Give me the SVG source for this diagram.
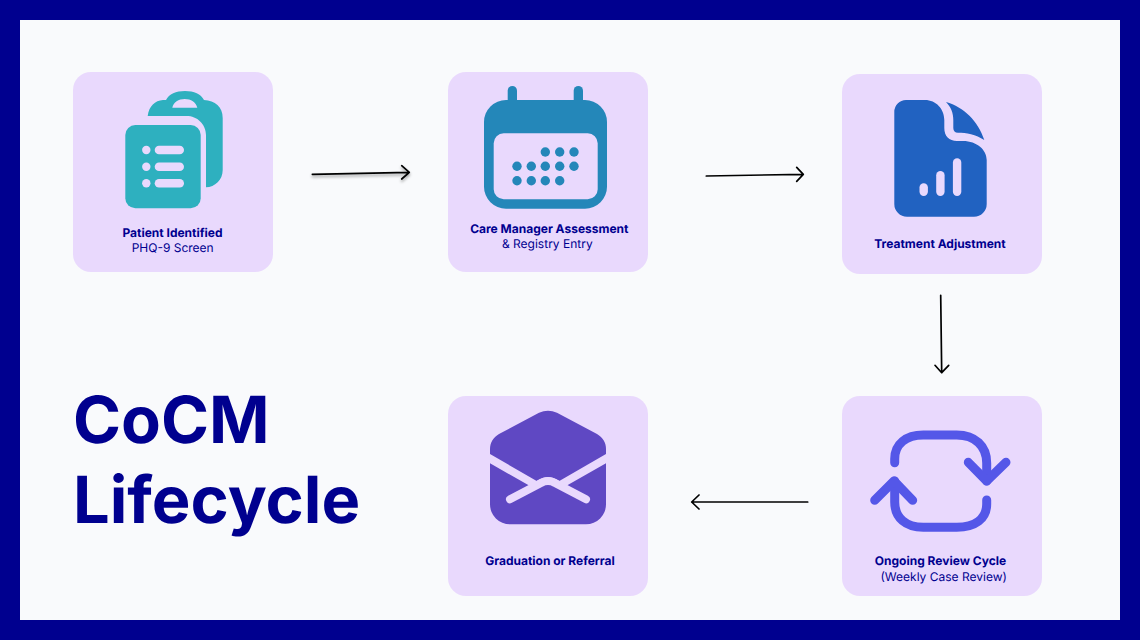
<svg xmlns="http://www.w3.org/2000/svg" width="1140" height="640" viewBox="0 0 1140 640">
<style>
text{text-rendering:geometricPrecision}
.card{fill:#E9D9FD}
.t{font-family:Inter,"Liberation Sans",sans-serif;font-size:12px;fill:#00008F;text-anchor:middle}
.b{font-weight:700}
.title{font-family:Inter,"Liberation Sans",sans-serif;font-size:65px;font-weight:700;fill:#00008F}
.conn{fill:none;stroke:#000;stroke-width:1.7;stroke-linecap:round;stroke-linejoin:round}
</style>
<defs>
<filter id="sh" x="-20%" y="-100%" width="140%" height="300%"><feDropShadow dx="0" dy="2" stdDeviation="1.5" flood-color="#000" flood-opacity=".4"/></filter>
</defs>
<rect width="1140" height="640" fill="#00008F"/>
<rect x="20" y="20" width="1100" height="600" fill="#F9FAFC"/>

<g id="title"><text class="title" x="73" y="443.300">CoCM</text><text class="title" x="73" y="522.700">Lifecycle</text></g>

<g id="connectors" class="conn">
<path filter="url(#sh)" d="M312.3 174.3L409.3 172.3M401.7 165.7L409.3 172.3L401.7 179"/>
<path d="M706.3 176L803.3 174.3M796.7 167.3L803.3 174.3L796.7 181.3"/>
<path d="M940.7 295.3L941.7 372.7M935 365.3L941.7 372.7L948.7 365.3"/>
<path d="M807.7 502H691.7M699 495L691.7 502L699 509"/>
</g>

<g id="node-patient">
<rect class="card" x="73" y="72" width="200" height="200" rx="18"/>
<g fill="#2EB0BF">
<path fill-rule="evenodd" d="M147.7 116C149 106 155 100.500 163 100H166C169 94 176 91 185 91C194 91 201 94 204 100C215 100.500 222.700 107 222.700 118V170C222.700 180 215 187 206 187.300V135C206 124 197 116 186.700 116ZM172.300 107.700H197.300C196 102 191 99 184.800 99C178.500 99 173.500 102 172.300 107.700Z"/>
<rect x="125.300" y="125" width="75.400" height="83.300" rx="10"/>
</g>
<g fill="#E9D9FD">
<circle cx="146.300" cy="150" r="4.200"/><circle cx="146.300" cy="166.700" r="4.200"/><circle cx="146.300" cy="183.300" r="4.200"/>
<rect x="154.700" y="145.700" width="29.300" height="8.600" rx="4.300"/><rect x="154.700" y="162.400" width="29.300" height="8.600" rx="4.300"/><rect x="154.700" y="179" width="29.300" height="8.600" rx="4.300"/>
</g>
<text class="t b" x="172.500" y="236.700">Patient Identified</text>
<text class="t" x="172.700" y="251.700">PHQ-9 Screen</text>
</g>

<g id="node-care">
<rect class="card" x="448" y="72" width="200" height="200" rx="18"/>
<g fill="#2487B9">
<rect x="507.700" y="86" width="9.300" height="24" rx="4.650"/><rect x="573.700" y="86" width="9.300" height="24" rx="4.650"/>
<path fill-rule="evenodd" d="M506 100H585A22 22 0 0 1 607 122V186.700A22 22 0 0 1 585 208.700H506A22 22 0 0 1 484 186.700V122A22 22 0 0 1 506 100ZM503.700 133.300A10 10 0 0 0 493.700 143.300V189.300A10 10 0 0 0 503.700 199.300H587.700A10 10 0 0 0 597.700 189.300V143.300A10 10 0 0 0 587.700 133.300Z"/>
<circle cx="545.300" cy="152" r="4.700"/><circle cx="559.700" cy="152" r="4.700"/><circle cx="574" cy="152" r="4.700"/>
<circle cx="517" cy="166.300" r="4.700"/><circle cx="531.300" cy="166.300" r="4.700"/><circle cx="545.300" cy="166.300" r="4.700"/><circle cx="559.700" cy="166.300" r="4.700"/><circle cx="574" cy="166.300" r="4.700"/>
<circle cx="517" cy="180.700" r="4.700"/><circle cx="531.300" cy="180.700" r="4.700"/><circle cx="545.300" cy="180.700" r="4.700"/><circle cx="559.700" cy="180.700" r="4.700"/>
</g>
<text class="t b" x="549.300" y="232.700">Care Manager Assessment</text>
<text class="t" x="547.300" y="247.700">&amp; Registry Entry</text>
</g>

<g id="node-treatment">
<rect class="card" x="842" y="74" width="200" height="200" rx="18"/>
<g fill="#2162C1">
<path d="M906 100H925C936 100 944.300 109 944.300 120V128C944.300 136 949 141 957 141H963C977 141 986.700 150 986.700 160V204A12.700 12.700 0 0 1 974 216.700H907A12.700 12.700 0 0 1 894.300 204V112A12 12 0 0 1 906 100Z"/>
<path d="M946 102C964 107 978 121 984.300 140C976 134.500 966 132.700 958 132.700C955 132.700 953.300 131 953.300 128V120C953.300 113 951 107 946 102Z"/>
</g>
<g fill="#E9D9FD">
<rect x="919.500" y="183.300" width="8.400" height="12.700" rx="4.200"/><rect x="936.200" y="171" width="8.400" height="25" rx="4.200"/><rect x="952.900" y="158.300" width="8.400" height="37.700" rx="4.200"/>
</g>
<text class="t b" x="940" y="247.700">Treatment Adjustment</text>
</g>

<g id="node-review">
<rect class="card" x="842" y="396" width="200" height="200" rx="18"/>
<g fill="none" stroke="#5457E8" stroke-width="9" stroke-linecap="round" stroke-linejoin="round">
<path d="M894.700 462.700V459C894.700 444 906 435 923.300 435H956.700C975 435 986.700 446 986.700 463V481"/>
<path d="M968.300 462.300L986.700 481L1006 462.300"/>
<path d="M986.700 500V504C986.700 519 975 527.300 956.700 527.300H923.300C906 527.300 894.700 518 894.700 502V481"/>
<path d="M874.700 500.300L894 481L912.700 500.300"/>
</g>
<text class="t b" x="940.500" y="565">Ongoing Review Cycle</text>
<text class="t" x="943.700" y="581">(Weekly Case Review)</text>
</g>

<g id="node-graduation">
<rect class="card" x="448" y="396" width="200" height="200" rx="18"/>
<g fill="#5F48C3">
<path d="M539 412.800Q548 408.800 557 412.800L597 434C603 437.500 606 443 606 449V454L559.300 481Q548 473 536.700 481L490 454V449C490 443 493 437.500 499 434Z"/>
<path d="M490 463.300L530 486L548 481L566 486L606 463.300V504.300A20 20 0 0 1 586 524.300H510A20 20 0 0 1 490 504.300Z"/>
</g>
<path d="M510 499.300L541 483Q548 479 555 483L586 499.300" fill="none" stroke="#E9D9FD" stroke-width="8" stroke-linecap="round"/>
<text class="t b" x="550" y="565">Graduation or Referral</text>
</g>
</svg>
